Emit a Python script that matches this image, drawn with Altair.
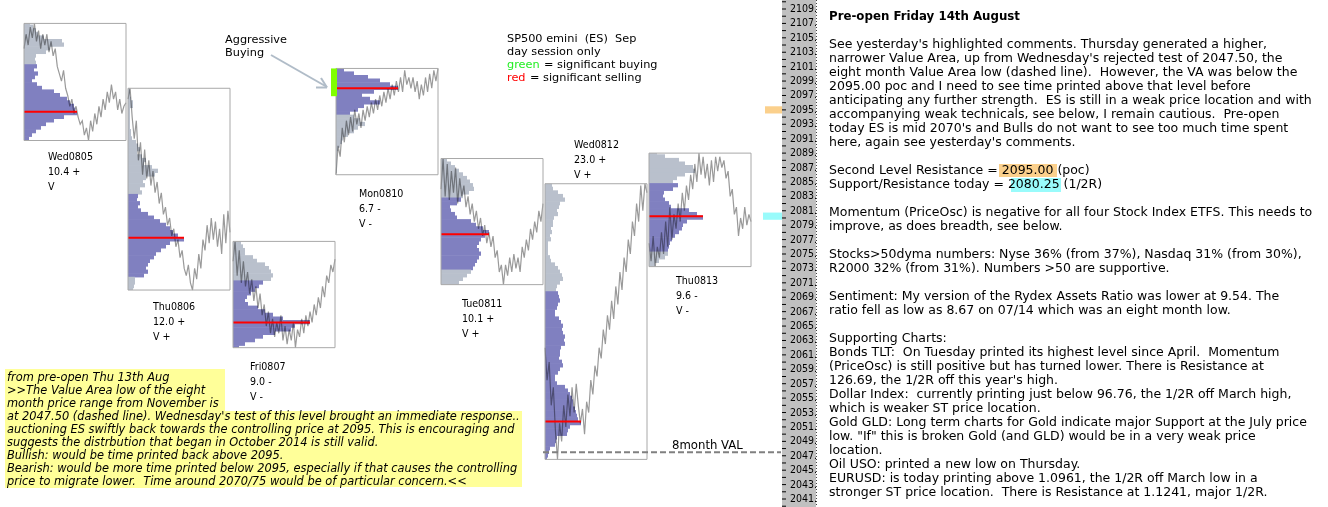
import altair as alt
import pandas as pd

W, H = 1328, 507
# price shown at the very top / bottom edge of the window (2109 sits at y=9, 2041 at y=499)
P_TOP, P_BOT = 2110.249, 2039.891

# ---------------- data ----------------
days = ["Wed0805", "Thu0806", "Fri0807", "Mon0810", "Tue0811", "Wed0812", "Thu0813"]
day_range_txt = ["10.4 +", "12.0 +", "9.0 -", "6.7 -", "10.1 +", "23.0 +", "9.6 -"]
day_v_txt = ["V", "V +", "V -", "V -", "V +", "V +", "V -"]
highs = [2107.0, 2098.0, 2076.75, 2100.75, 2088.25, 2084.75, 2089.0]
lows = [2090.75, 2070.0, 2062.0, 2086.0, 2070.75, 2046.5, 2073.25]
pocs = [2094.75, 2077.25, 2065.5, 2098.0, 2077.75, 2051.75, 2080.25]
va_highs = [2101.0, 2083.0, 2071.0, 2100.5, 2082.5, 2069.5, 2084.5]
va_lows = [2091.0, 2072.0, 2062.0, 2094.5, 2073.0, 2046.5, 2075.5]
profile_top = [2107.0, 2098.0, 2076.5, 2100.5, 2088.0, 2084.5, 2089.0]
profile_step = 0.5
profiles = [
    [6, 9, 12, 14, 20, 38, 40, 26, 22, 12, 11, 12, 13, 10, 14, 11, 8, 13, 18, 30,
     36, 43, 46, 50, 51, 53, 40, 30, 22, 17, 12, 8, 5],
    [2, 2, 2, 3, 5, 5, 2, 2, 2, 2, 2, 2, 3, 3, 4, 8, 10, 12, 9, 14, 18, 16, 24, 30, 27,
     18, 15, 17, 12, 14,
     10, 9, 12, 10, 13, 20, 26, 32, 38, 42, 45, 50, 56, 42, 38, 33, 28, 26, 22, 20, 18, 20, 16,
     7, 7, 6, 5],
    [8, 10, 12, 12, 20, 24, 32, 36, 38, 40, 38,
     30, 26, 22, 18, 14, 12, 15, 25, 32, 40, 50, 77, 62, 58, 42, 30, 22, 12, 6],
    [8, 18, 32, 44, 54, 62, 38, 26, 34, 44, 28, 22, 14,
     18, 24, 29, 22, 18, 12, 7, 6, 4, 2, 1, 1, 1, 1, 1, 1],
    [6, 10, 14, 18, 22, 26, 29, 32, 33, 28, 22,
     20, 16, 9, 10, 14, 16, 30, 35, 42, 48, 44, 40, 38, 36, 38, 40, 38, 36, 34, 32,
     30, 26, 22, 18],
    [7, 8, 13, 18, 20, 15, 14, 12, 13, 9, 8, 8, 6, 7, 5, 6, 3, 3, 3, 3, 5, 6, 10, 13, 15,
     17, 18, 15, 12, 11,
     13, 14, 15, 13, 12, 10, 10, 14, 16, 18, 17, 18, 20, 19, 20, 16, 15, 15, 14, 17,
     18, 15, 13, 10, 10, 12, 20, 23, 25, 27, 28, 28, 30, 31, 32, 33, 36, 25, 23, 22,
     12, 11, 10, 5, 4, 3, 2],
    [8, 16, 30, 36, 44, 46, 36, 28, 24,
     29, 24, 15, 14, 16, 20, 22, 40, 48, 54, 38, 34, 33, 30, 26, 23, 21, 20, 19,
     19, 16, 10, 6],
]
price_lines = [
    [2103.5, 2105.5, 2104.0, 2106.5, 2105.0, 2107.0, 2104.5, 2106.0, 2103.5, 2105.5,
     2104.0, 2105.5, 2103.0, 2104.5, 2102.5, 2103.5, 2101.0, 2100.0, 2099.0, 2100.5,
     2098.0, 2097.0, 2095.5, 2096.5, 2094.5, 2095.5, 2094.0, 2093.0, 2093.5, 2091.5,
     2092.5, 2090.75, 2093.5, 2092.0, 2094.5, 2093.0, 2095.5, 2094.0, 2096.5, 2095.0,
     2097.5, 2096.0, 2098.5, 2096.5, 2097.5, 2095.0, 2096.5, 2094.5, 2095.5, 2096.0],
    [2096.5, 2098.0, 2094.0, 2091.0, 2093.5, 2088.0, 2090.5, 2086.0, 2089.5, 2085.5,
     2088.0, 2084.5, 2086.5, 2083.5, 2085.0, 2082.0, 2083.5, 2080.5, 2081.5, 2079.0,
     2080.0, 2077.5, 2078.5, 2076.0, 2077.0, 2074.5, 2075.5, 2073.0, 2072.0, 2073.5,
     2071.0, 2070.0, 2073.0, 2071.5, 2075.0, 2073.0, 2077.0, 2075.5, 2079.0, 2076.5,
     2080.0, 2077.0, 2079.5, 2076.0, 2078.5, 2075.0, 2080.5, 2076.5, 2081.0, 2078.0],
    [2074.0, 2076.75, 2072.0, 2075.5, 2071.0, 2074.0, 2070.5, 2072.5, 2069.5, 2071.5,
     2068.5, 2070.5, 2067.5, 2069.5, 2066.5, 2068.0, 2065.0, 2067.0, 2064.0, 2066.0,
     2063.5, 2065.5, 2064.0, 2066.5, 2063.0, 2065.0, 2062.5, 2064.5, 2063.0, 2065.5,
     2062.0, 2064.5, 2063.5, 2066.0, 2064.0, 2066.5, 2065.0, 2067.0, 2065.5, 2068.0,
     2066.5, 2069.0, 2067.5, 2070.5, 2069.0, 2072.0, 2071.0, 2073.5, 2072.5, 2074.3],
    [2086.0, 2090.0, 2088.5, 2092.5, 2090.5, 2093.5, 2091.5, 2094.0, 2092.0, 2095.0,
     2093.0, 2094.5, 2092.5, 2095.0, 2093.5, 2095.5, 2094.0, 2096.0, 2094.5, 2096.5,
     2095.0, 2097.0, 2095.5, 2097.5, 2096.0, 2098.0, 2096.5, 2098.5, 2097.0, 2099.0,
     2097.5, 2099.5, 2097.5, 2100.5, 2098.5, 2099.5, 2098.0, 2099.5, 2097.5, 2099.0,
     2096.5, 2098.5, 2097.0, 2099.5, 2097.5, 2100.0, 2098.0, 2100.5, 2099.0, 2100.75],
    [2084.0, 2088.25, 2083.0, 2087.5, 2082.5, 2086.5, 2083.5, 2087.0, 2082.0, 2085.5,
     2083.0, 2084.5, 2081.5, 2083.0, 2080.5, 2082.0, 2079.5, 2081.0, 2078.5, 2080.0,
     2077.5, 2079.0, 2076.5, 2078.0, 2076.0, 2077.5, 2074.5, 2075.5, 2072.5, 2073.5,
     2070.75, 2073.5, 2072.0, 2074.5, 2072.5, 2075.0, 2073.0, 2074.5, 2072.5, 2076.0,
     2074.5, 2077.0, 2075.5, 2078.5, 2077.0, 2079.5, 2078.0, 2081.0, 2079.5, 2082.0],
    [2062.0, 2057.5, 2060.0, 2054.0, 2056.5, 2050.5, 2046.5, 2051.5, 2049.0, 2054.0,
     2051.0, 2055.5, 2052.5, 2056.5, 2053.0, 2057.0, 2054.0, 2051.5, 2053.5, 2050.0,
     2054.5, 2053.0, 2057.5, 2055.5, 2059.5, 2058.0, 2062.0, 2060.5, 2064.5, 2062.5,
     2066.5, 2064.5, 2068.5, 2066.0, 2070.5, 2068.0, 2072.5, 2070.0, 2074.5, 2072.5,
     2077.0, 2075.0, 2079.5, 2077.5, 2082.0, 2079.5, 2084.5, 2081.0, 2084.75, 2083.5],
    [2076.5, 2074.0, 2077.5, 2073.25, 2076.0, 2074.5, 2078.0, 2075.0, 2079.5, 2076.0,
     2081.5, 2077.0, 2080.5, 2078.5, 2082.0, 2079.5, 2083.5, 2081.0, 2084.5, 2082.5,
     2086.0, 2084.0, 2087.5, 2085.0, 2089.0, 2086.0, 2088.5, 2085.5, 2087.5, 2084.5,
     2088.0, 2085.0, 2088.5, 2086.5, 2088.5, 2087.0, 2088.0, 2085.5, 2086.5, 2083.0,
     2084.0, 2080.5, 2081.5, 2077.5, 2080.0, 2078.5, 2081.5, 2079.0, 2080.5, 2079.5],
]
buy_day, buy_hi, buy_lo = "Mon0810", 2100.75, 2096.9
val_8month = 2047.5
resistance_level = 2095.00
support_level = 2080.25
axis_ticks = list(range(2040, 2111))
axis_labels = list(range(2041, 2110, 2))

legend_lines = ["SP500 emini  (ES)  Sep", "day session only"]
note_lines = [
    "from pre-open Thu 13th Aug",
    ">>The Value Area low of the eight",
    "month price range from November is",
    "at 2047.50 (dashed line). Wednesday's test of this level brought an immediate response..",
    "auctioning ES swiftly back towards the controlling price at 2095. This is encouraging and",
    "suggests the distrbution that began in October 2014 is still valid.",
    "Bullish: would be time printed back above 2095.",
    "Bearish: would be more time printed below 2095, especially if that causes the controlling",
    "price to migrate lower.  Time around 2070/75 would be of particular concern.<<",
]
heading = "Pre-open Friday 14th August"
right_lines = [
    "See yesterday's highlighted comments. Thursday generated a higher,",
    "narrower Value Area, up from Wednesday's rejected test of 2047.50, the",
    "eight month Value Area low (dashed line).  However, the VA was below the",
    "2095.00 poc and I need to see time printed above that level before",
    "anticipating any further strength.  ES is still in a weak price location and with",
    "accompanying weak technicals, see below, I remain cautious.  Pre-open",
    "today ES is mid 2070's and Bulls do not want to see too much time spent",
    "here, again see yesterday's comments.",
    "",
    "Second Level Resistance = 2095.00 (poc)",
    "Support/Resistance today = 2080.25 (1/2R)",
    "",
    "Momentum (PriceOsc) is negative for all four Stock Index ETFS. This needs to",
    "improve, as does breadth, see below.",
    "",
    "Stocks>50dyma numbers: Nyse 36% (from 37%), Nasdaq 31% (from 30%),",
    "R2000 32% (from 31%). Numbers >50 are supportive.",
    "",
    "Sentiment: My version of the Rydex Assets Ratio was lower at 9.54. The",
    "ratio fell as low as 8.67 on 07/14 which was an eight month low.",
    "",
    "Supporting Charts:",
    "Bonds TLT:  On Tuesday printed its highest level since April.  Momentum",
    "(PriceOsc) is still positive but has turned lower. There is Resistance at",
    "126.69, the 1/2R off this year's high.",
    "Dollar Index:  currently printing just below 96.76, the 1/2R off March high,",
    "which is weaker ST price location.",
    "Gold GLD: Long term charts for Gold indicate major Support at the July price",
    "low. \"If\" this is broken Gold (and GLD) would be in a very weak price",
    "location.",
    "Oil USO: printed a new low on Thursday.",
    "EURUSD: is today printing above 1.0961, the 1/2R off March low in a",
    "stronger ST price location.  There is Resistance at 1.1241, major 1/2R.",
]


def keep_spaces(s):
    # SVG collapses runs of spaces; keep the double spaces of the original text
    return s.replace("  ", " \u00a0")


# ---------------- layout (pixels) ----------------
box_left = [24, 128, 233, 336, 441, 545, 649]
box_w = 102
label_xy = [(48, 157), (153, 307), (250, 367), (359, 194), (462, 304), (574, 145), (676, 281)]
label_dy = 15
LBL_FONT = "DejaVu Sans Condensed"
TXT_FONT = "DejaVu Sans"
VA_COL, OUT_COL = "#8080c0", "#b9c0cc"
ROW_OVERLAP = 0.09   # price units, hides anti-aliasing seams between profile rows

XS = alt.Scale(domain=[0, W], nice=False, zero=False)
PS = alt.Scale(domain=[P_BOT, P_TOP], nice=False, zero=False)
PXS = alt.Scale(domain=[0, H], reverse=True, nice=False, zero=False)


def X(f):
    return alt.X(f, scale=XS, axis=None)


def YP(f):
    return alt.Y(f, scale=PS, axis=None)


def YX(f):
    return alt.Y(f, scale=PXS, axis=None)


# ---------------- tables ----------------
prof_rows, line_rows, box_rows, poc_rows = [], [], [], []
for i, d in enumerate(days):
    L0 = box_left[i]
    for k, L in enumerate(profiles[i]):
        p = profile_top[i] - k * profile_step
        prof_rows.append(dict(day=d, x0=L0, x1=L0 + L,
                              ytop=min(p + profile_step / 2 + ROW_OVERLAP, highs[i]),
                              ybot=max(p - profile_step / 2, lows[i]),
                              zone="va" if va_lows[i] <= p <= va_highs[i] else "out"))
    n = len(price_lines[i])
    for k, v in enumerate(price_lines[i]):
        line_rows.append(dict(day=d, k=k, t=L0 + box_w * k / (n - 1), p=v))
    box_rows.append(dict(day=d, x0=L0, x1=L0 + box_w, hi=highs[i], lo=lows[i]))
    poc_rows.append(dict(day=d, x0=L0, x1=L0 + max(profiles[i]), p=pocs[i]))

df_prof = pd.DataFrame(prof_rows)
df_line = pd.DataFrame(line_rows)
df_box = pd.DataFrame(box_rows)
df_poc = pd.DataFrame(poc_rows)

lab_rows = []
for i, d in enumerate(days):
    lx, ly = label_xy[i]
    for j, s in enumerate([d, day_range_txt[i], day_v_txt[i]]):
        lab_rows.append(dict(txt=s, px=lx, py=ly + j * label_dy))
df_lab = pd.DataFrame(lab_rows)

bi = days.index(buy_day)
df_buy = pd.DataFrame([dict(x0=box_left[bi] - 5, x1=box_left[bi] + 1, hi=buy_hi, lo=buy_lo)])

df_val = pd.DataFrame([dict(x0=543, x1=781, p=val_8month)])
df_hl_axis = pd.DataFrame([
    dict(x0=765, x1=782, hi=resistance_level + 0.5, lo=resistance_level - 0.5, c="#fbd08c"),
    dict(x0=763, x1=782, hi=support_level + 0.5, lo=support_level - 0.5, c="#99fbfb"),
])
df_ticks = pd.DataFrame(dict(p=axis_ticks, x0=782, x1=786))
df_tlab = pd.DataFrame(dict(p=axis_labels, txt=[f"{v}." for v in axis_labels], px=790))

df_right = pd.DataFrame(dict(txt=[keep_spaces(s) for s in right_lines], px=829,
                             py=[44.3 + 14 * i for i in range(len(right_lines))]))
df_note = pd.DataFrame(dict(txt=[keep_spaces(s) for s in note_lines], px=7,
                            py=[378.3 + 12.9 * i for i in range(len(note_lines))]))

# ---------------- layers ----------------
layers = []

# yellow note background
df_yel = pd.DataFrame([dict(x0=5, x1=225, y0=369, y1=488), dict(x0=5, x1=522, y0=411, y1=487)])
layers.append(alt.Chart(df_yel).mark_rect(color="#ffff99").encode(
    x=X("x0:Q"), x2="x1", y=YX("y0:Q"), y2="y1"))

# axis background band
df_band = pd.DataFrame([dict(x0=782, x1=816, y0=0, y1=H)])
layers.append(alt.Chart(df_band).mark_rect(color="#c0c0c0").encode(
    x=X("x0:Q"), x2="x1", y=YX("y0:Q"), y2="y1"))

# right-panel text highlights
df_hl_txt = pd.DataFrame([dict(x0=999, x1=1057, y0=164, y1=177, c="#fbd08c"),
                          dict(x0=1011, x1=1061, y0=178, y1=192, c="#99fbfb")])
layers.append(alt.Chart(df_hl_txt).mark_rect().encode(
    x=X("x0:Q"), x2="x1", y=YX("y0:Q"), y2="y1", color=alt.Color("c:N", scale=None)))

# axis highlights
layers.append(alt.Chart(df_hl_axis).mark_rect().encode(
    x=X("x0:Q"), x2="x1", y=YP("hi:Q"), y2="lo", color=alt.Color("c:N", scale=None)))

# profiles
layers.append(alt.Chart(df_prof).mark_rect().encode(
    x=X("x0:Q"), x2="x1", y=YP("ytop:Q"), y2="ybot",
    color=alt.Color("zone:N", scale=alt.Scale(domain=["va", "out"], range=[VA_COL, OUT_COL]),
                    legend=None)))

# price lines (multiplied onto profiles)
layers.append(alt.Chart(df_line).mark_line(color="#9a9a9a", strokeWidth=1.2, blend="multiply").encode(
    x=X("t:Q"), y=YP("p:Q"), detail="day:N", order="k:Q"))

# POC lines
layers.append(alt.Chart(df_poc).mark_rule(color="#ff0000", strokeWidth=2).encode(
    x=X("x0:Q"), x2="x1", y=YP("p:Q")))

# box outlines
layers.append(alt.Chart(df_box).mark_rect(filled=False, stroke="#a8a8a8", strokeWidth=1).encode(
    x=X("x0:Q"), x2="x1", y=YP("hi:Q"), y2="lo"))

# significant buying marker
layers.append(alt.Chart(df_buy).mark_rect(color="#80ff00").encode(
    x=X("x0:Q"), x2="x1", y=YP("hi:Q"), y2="lo"))

# 8 month VAL dashed line
layers.append(alt.Chart(df_val).mark_rule(color="#808080", strokeWidth=2, strokeDash=[6, 3]).encode(
    x=X("x0:Q"), x2="x1", y=YP("p:Q")))

# axis ticks + labels
layers.append(alt.Chart(df_ticks).mark_rule(color="#000000", strokeWidth=1).encode(
    x=X("x0:Q"), x2="x1", y=YP("p:Q")))
layers.append(alt.Chart(df_tlab).mark_text(align="left", baseline="middle", font=LBL_FONT,
                                            fontSize=10.5, color="#000000").encode(
    x=X("px:Q"), y=YP("p:Q"), text="txt:N"))

# dotted separator
df_sep = pd.DataFrame([dict(x=816.5, y0=0, y1=H)])
layers.append(alt.Chart(df_sep).mark_rule(color="#444444", strokeDash=[1, 2], strokeWidth=1).encode(
    x=X("x:Q"), y=YX("y0:Q"), y2="y1"))

# day labels
layers.append(alt.Chart(df_lab).mark_text(align="left", baseline="middle", font=LBL_FONT,
                                           fontSize=10.6, color="#000000").encode(
    x=X("px:Q"), y=YX("py:Q"), text="txt:N"))

# legend block
df_leg = pd.DataFrame([
    dict(txt=keep_spaces(legend_lines[0]), px=507, py=39, c="#000000"),
    dict(txt=legend_lines[1], px=507, py=52, c="#000000"),
    dict(txt="green", px=507, py=65, c="#22ee22"),
    dict(txt="= significant buying", px=544, py=65, c="#000000"),
    dict(txt="red", px=507, py=78, c="#ff0000"),
    dict(txt="= significant selling", px=530, py=78, c="#000000"),
    dict(txt="Aggressive", px=225, py=40, c="#000000"),
    dict(txt="Buying", px=225, py=53, c="#000000"),
])
layers.append(alt.Chart(df_leg).mark_text(align="left", baseline="middle", font=TXT_FONT,
                                           fontSize=11.3).encode(
    x=X("px:Q"), y=YX("py:Q"), text="txt:N", color=alt.Color("c:N", scale=None)))

# arrow
df_arrow = pd.DataFrame([
    dict(x0=271, y0=55, x1=327, y1=87),
    dict(x0=327, y0=87.5, x1=316, y1=87.5),
    dict(x0=327, y0=87.5, x1=321, y1=78),
])
layers.append(alt.Chart(df_arrow).mark_rule(color="#b0bcc8", strokeWidth=2).encode(
    x=X("x0:Q"), x2="x1", y=YX("y0:Q"), y2="y1"))

# 8 month VAL label
layers.append(alt.Chart(pd.DataFrame([dict(txt="8month VAL", px=672, py=445)])).mark_text(
    align="left", baseline="middle", font=TXT_FONT, fontSize=11.7, color="#000000").encode(
    x=X("px:Q"), y=YX("py:Q"), text="txt:N"))

# yellow note text
layers.append(alt.Chart(df_note).mark_text(align="left", baseline="middle", font=TXT_FONT,
                                            fontSize=11.4, fontStyle="italic",
                                            color="#000000").encode(
    x=X("px:Q"), y=YX("py:Q"), text="txt:N"))

# right panel
layers.append(alt.Chart(pd.DataFrame([dict(txt=heading, px=829, py=16)])).mark_text(
    align="left", baseline="middle", font=TXT_FONT, fontSize=11.8, fontWeight="bold",
    color="#000000").encode(x=X("px:Q"), y=YX("py:Q"), text="txt:N"))
layers.append(alt.Chart(df_right).mark_text(align="left", baseline="middle", font=TXT_FONT,
                                             fontSize=12.5, color="#000000").encode(
    x=X("px:Q"), y=YX("py:Q"), text="txt:N"))

chart = alt.layer(*layers).resolve_scale(y="independent").properties(
    width=W, height=H, padding=0, autosize="none", background="#ffffff"
).configure_view(stroke=None)

chart.save("out.html", embed_options={"renderer": "svg", "actions": False})
